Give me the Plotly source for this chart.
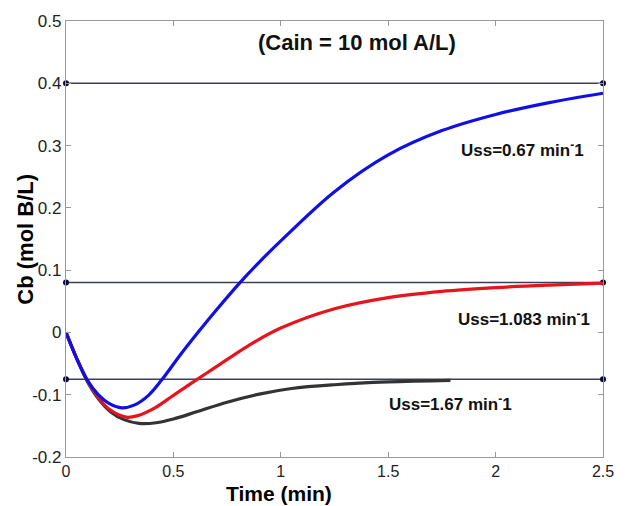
import plotly.graph_objects as go

# Blue curve (Uss = 0.67 min^-1)
t_blue = [0, 0.05, 0.1, 0.15, 0.2, 0.26, 0.32, 0.384, 0.445, 0.53, 0.612, 0.7, 0.81, 0.9, 1.0, 1.25, 1.5, 1.75, 2.0, 2.25, 2.5]
cb_blue = [0, -0.042, -0.077, -0.100, -0.114, -0.121, -0.1163, -0.101, -0.0765, -0.037, -0.001, 0.036, 0.08, 0.113, 0.147, 0.226, 0.285, 0.324, 0.350, 0.369, 0.384]

# Red curve (Uss = 1.083 min^-1)
t_red = [0, 0.05, 0.1, 0.15, 0.2, 0.28, 0.33, 0.414, 0.5, 0.612, 0.7, 0.85, 1.0, 1.25, 1.5, 1.75, 2.0, 2.25, 2.5]
cb_red = [0, -0.042, -0.078, -0.104, -0.123, -0.136, -0.134, -0.121, -0.101, -0.075, -0.055, -0.021, 0.007, 0.038, 0.056, 0.066, 0.072, 0.076, 0.079]

# Black curve (Uss = 1.67 min^-1)
t_black = [0, 0.05, 0.1, 0.15, 0.21, 0.27, 0.34, 0.42, 0.5, 0.612, 0.75, 0.9, 1.05, 1.25, 1.5, 1.79]
cb_black = [0, -0.042, -0.079, -0.106, -0.128, -0.140, -0.146, -0.145, -0.139, -0.127, -0.112, -0.099, -0.090, -0.084, -0.0795, -0.077]

# Steady-state reference levels
ss_levels = [0.4, 0.08, -0.075]
ss_x = [0, 2.5]

x_ticks = [0, 0.5, 1, 1.5, 2, 2.5]
x_ticktext = ["0", "0.5", "1", "1.5", "2", "2.5"]
y_ticks = [-0.2, -0.1, 0, 0.1, 0.2, 0.3, 0.4, 0.5]
y_ticktext = ["-0.2", "-0.1", "0", "0.1", "0.2", "0.3", "0.4", "0.5"]

labels = ["Uss=0.67 min<sup>-</sup>1", "Uss=1.083 min<sup>-</sup>1", "Uss=1.67 min<sup>-</sup>1"]
label_x = [2.125, 2.134, 1.79]
label_y = [0.295, 0.023, -0.113]

fig = go.Figure()

for lv in ss_levels:
    fig.add_trace(go.Scatter(
        x=ss_x, y=[lv, lv], mode="lines+markers",
        line=dict(color="#3c3c5c", width=1.5),
        marker=dict(color="#0a0a3a", size=6),
        cliponaxis=False, showlegend=False, hoverinfo="skip"))

fig.add_trace(go.Scatter(x=t_black, y=cb_black, mode="lines",
                         line=dict(color="#333333", width=3.2, shape="spline", smoothing=1.0),
                         showlegend=False))
fig.add_trace(go.Scatter(x=t_red, y=cb_red, mode="lines",
                         line=dict(color="#e8141c", width=3.2, shape="spline", smoothing=1.0),
                         showlegend=False))
fig.add_trace(go.Scatter(x=t_blue, y=cb_blue, mode="lines",
                         line=dict(color="#1010e6", width=3.2, shape="spline", smoothing=1.0),
                         showlegend=False))

font_main = "Liberation Sans, Arial, sans-serif"

annotations = [
    dict(x=1.357, y=0.465, xref="x", yref="y", text="<b>(Cain = 10 mol A/L)</b>",
         showarrow=False, font=dict(family=font_main, size=22, color="#111111")),
    dict(x=0.396, y=-0.0835, xref="paper", yref="paper", text="<b>Time (min)</b>",
         showarrow=False, font=dict(family=font_main, size=21, color="#000000"),
         xanchor="center", yanchor="middle"),
    dict(x=-0.077, y=0.5, xref="paper", yref="paper", text="<b>Cb (mol B/L)</b>",
         showarrow=False, textangle=-90,
         font=dict(family=font_main, size=22, color="#000000"),
         xanchor="center", yanchor="middle"),
]
for txt, lx, ly in zip(labels, label_x, label_y):
    annotations.append(dict(x=lx, y=ly, xref="x", yref="y", text="<b>" + txt + "</b>",
                            showarrow=False,
                            font=dict(family=font_main, size=17, color="#111111")))

fig.update_layout(
    width=626, height=506,
    margin=dict(l=66, r=13, t=20, b=49),
    paper_bgcolor="white", plot_bgcolor="white",
    annotations=annotations,
    font=dict(family=font_main),
)
fig.update_xaxes(range=[0, 2.5], tickvals=x_ticks, ticktext=x_ticktext,
                 showgrid=False, zeroline=False, showline=True, linecolor="#999999",
                 linewidth=1.2, mirror="ticks", ticks="inside", ticklen=5,
                 tickcolor="#999999", tickfont=dict(size=16, color="#222222"))
fig.update_yaxes(range=[-0.2, 0.5], tickvals=y_ticks, ticktext=y_ticktext,
                 showgrid=False, zeroline=False, showline=True, linecolor="#999999",
                 linewidth=1.2, mirror="ticks", ticks="inside", ticklen=5,
                 tickcolor="#999999", tickfont=dict(size=17, color="#222222"))

fig.write_html("out.html")
